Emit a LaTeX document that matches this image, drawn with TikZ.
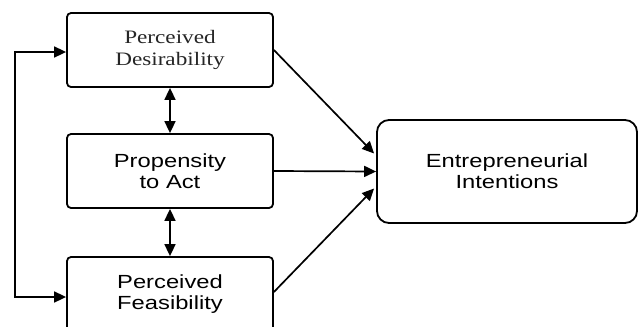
\documentclass[tikz,border=0pt]{standalone}
\usepackage{fontspec}
\setmainfont{Liberation Serif}[FakeStretch=1.22]
\newfontfamily\arialfont{Liberation Sans}[FakeStretch=1.25]
\usepackage{tikz}
\usetikzlibrary{arrows.meta,calc,positioning}
\tikzset{
	factor/.style={draw, line width=1.8pt, rounded corners=4pt, minimum width=206pt, minimum height=74pt, align=center, font=\arialfont\fontsize{19}{21}\selectfont},
	outcome/.style={factor, rounded corners=12pt, minimum width=260pt, minimum height=103pt},
	link/.style={line width=1.7pt, -{Triangle[length=12pt,width=11pt]}},
	twoway/.style={line width=1.7pt, {Triangle[length=12pt,width=11pt]}-{Triangle[length=12pt,width=11pt]}}
}
\begin{document}
\begin{tikzpicture}[x=1pt,y=1pt]
	\useasboundingbox (0,0) rectangle (638,-327);
	\node (des) [factor, font=\rmfamily\fontsize{19}{22}\selectfont, text=black!85] at (170,-50) {Perceived\\Desirability};
	\node (act) [factor] at (170,-171) {Propensity\\to Act};
	\node (fea) [factor] at (170,-294) {Perceived\\Feasibility};
	\node (ent) [outcome] at (507,-171.5) {Entrepreneurial\\Intentions};
	% feedback line on the left
	\coordinate (fbtop) at (15,-52);
	\coordinate (fbbot) at (15,-297);
	\draw [twoway] (des.west |- fbtop) -- (fbtop) -- (fbbot) -- (fea.west |- fbbot);
	\draw [twoway] (des.south) -- (act.north);
	\draw [twoway] (act.south) -- (fea.north);
	% paths to intentions
	\draw [link] (des.east) -- ([xshift=-2pt,yshift=18pt]ent.west);
	\draw [link] (act.east) -- (ent.west);
	\draw [link] ([yshift=2pt]fea.east) -- ([xshift=-2pt,yshift=-17pt]ent.west);
\end{tikzpicture}
\end{document}
